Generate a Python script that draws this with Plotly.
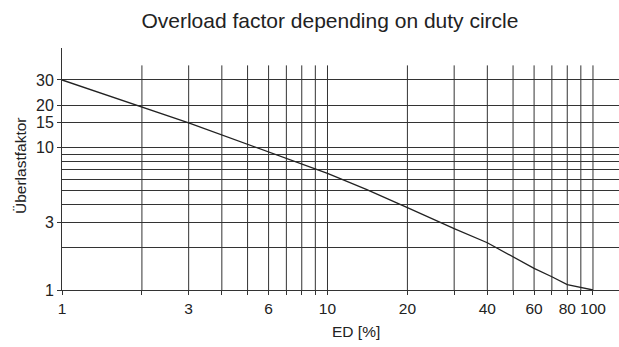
import plotly.graph_objects as go

# Data
ed = [1, 3, 10, 14, 20, 30, 40, 50, 60, 70, 80, 100]
factor = [30, 15, 6.6, 5.1, 3.8, 2.7, 2.15, 1.7, 1.42, 1.24, 1.09, 1.0]

# Axis ticks / grid
x_grid = [1, 2, 3, 4, 5, 6, 7, 8, 9, 10, 20, 30, 40, 50, 60, 70, 80, 90, 100]
x_labels = ["1", "", "3", "", "", "6", "", "", "", "10", "20", "", "40", "", "60", "", "80", "", "100"]
y_major = [1, 3, 10, 15, 20, 30]
y_minor = [2, 4, 5, 6, 7, 8, 9]
v_grid_top = 38  # vertical grid lines stop here

INK = "#222222"
GRID = "#333333"
FONT = "Liberation Sans, Arial, sans-serif"

# vertical grid lines as a data trace
vx, vy = [], []
for xv in x_grid[1:]:
    vx += [xv, xv, None]
    vy += [1, v_grid_top, None]

fig = go.Figure()
fig.add_trace(go.Scatter(x=vx, y=vy, mode="lines", line=dict(color=GRID, width=1),
                         hoverinfo="skip", showlegend=False))
fig.add_trace(go.Scatter(x=ed, y=factor, mode="lines", line=dict(color=INK, width=1.3),
                         showlegend=False))

fig.update_layout(
    width=619, height=347,
    margin=dict(l=62, r=0, t=48, b=57),
    paper_bgcolor="white", plot_bgcolor="white",
    font=dict(family=FONT, color=INK, size=15.5),
    title=dict(text="Overload factor depending on duty circle",
               font=dict(size=21, color=INK, family=FONT),
               xref="paper", x=0.481, xanchor="center",
               yref="container", y=1 - 21 / 347, yanchor="middle"),
    xaxis=dict(type="log", range=[0, 2.098], tickmode="array", tickvals=x_grid, ticktext=x_labels,
               showgrid=False, zeroline=False, showline=True, linecolor=GRID, linewidth=1,
               ticks="outside", ticklen=4, tickcolor=GRID, tickwidth=1,
               tickfont=dict(size=15.5, color=INK, family=FONT)),
    yaxis=dict(type="log", range=[0, 1.702], tickmode="array", tickvals=y_major,
               ticktext=[str(v) for v in y_major],
               showgrid=True, gridcolor=GRID, gridwidth=1, zeroline=False,
               showline=True, linecolor=GRID, linewidth=1,
               ticks="outside", ticklen=4, tickcolor=GRID, tickwidth=1,
               tickfont=dict(size=16, color=INK, family=FONT),
               minor=dict(tickmode="array", tickvals=y_minor, showgrid=True,
                          gridcolor=GRID, gridwidth=1, ticks="")),
    annotations=[
        dict(text="ED [%]", xref="paper", yref="paper", x=(356 - 62) / 557, y=(290 - 331) / 242,
             xanchor="center", yanchor="middle", showarrow=False,
             font=dict(size=15.5, color=INK, family=FONT)),
        dict(text="Überlastfaktor", xref="paper", yref="paper", x=(20 - 62) / 557, y=(290 - 166) / 242,
             xanchor="center", yanchor="middle", showarrow=False, textangle=-90,
             font=dict(size=15.5, color=INK, family=FONT)),
    ],
)

fig.write_html("out.html", config={"displayModeBar": False},
               post_script="document.body.style.margin='0';document.body.style.overflow='hidden';")
